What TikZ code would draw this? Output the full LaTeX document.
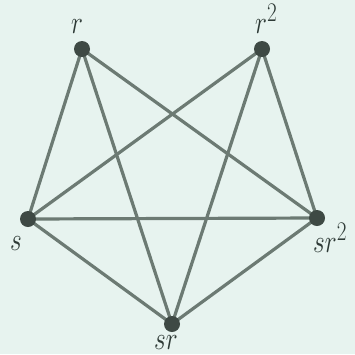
\documentclass[tikz,border=0pt]{standalone}
\usepackage{graphicx}
\definecolor{bgc}{HTML}{E7F3EF}
\definecolor{edgec}{HTML}{6C7A73}
\definecolor{dotc}{HTML}{3E4944}
\definecolor{txtc}{HTML}{2E3A36}
\newcommand{\mylbl}[1]{\scalebox{1.02}[1.3]{$#1$}}
\begin{document}
\begin{tikzpicture}[x=1pt,y=-1pt,
  vtx/.style={circle,fill=dotc,inner sep=0pt,minimum size=16pt},
  edge/.style={draw=edgec,line width=3.2pt},
  lbl/.style={text=txtc,inner sep=0pt,anchor=base west,font=\fontsize{24.88}{28}\selectfont}]
\fill[bgc] (0,0) rectangle (355,354);
\useasboundingbox (0,0) rectangle (355,354);
\clip (0,0) rectangle (355,354);
\coordinate (pr) at (82,49);
\coordinate (pr2) at (262,49);
\coordinate (ps) at (28,219);
\coordinate (psr2) at (317,218);
\coordinate (psr) at (172,324);
\draw[edge] (pr) -- (ps);
\draw[edge] (pr) -- (psr);
\draw[edge] (pr) -- (psr2);
\draw[edge] (pr2) -- (ps);
\draw[edge] (pr2) -- (psr);
\draw[edge] (pr2) -- (psr2);
\draw[edge] (ps) -- (psr2);
\draw[edge] (ps) -- (psr);
\draw[edge] (psr) -- (psr2);
\node[vtx] (r) at (pr) {};
\node[vtx] (r2) at (pr2) {};
\node[vtx] (s) at (ps) {};
\node[vtx] (sr2) at (psr2) {};
\node[vtx] (sr) at (psr) {};
\node[lbl] (lr) at (71,33) {\mylbl{r}};
\node[lbl] (lr2) at (255,33) {\mylbl{r^2}};
\node[lbl] (ls) at (10,250) {\mylbl{s}};
\node[lbl] (lsr2) at (313,252) {\mylbl{sr^2}};
\node[lbl] (lsr) at (154,349) {\mylbl{sr}};
\end{tikzpicture}
\end{document}
